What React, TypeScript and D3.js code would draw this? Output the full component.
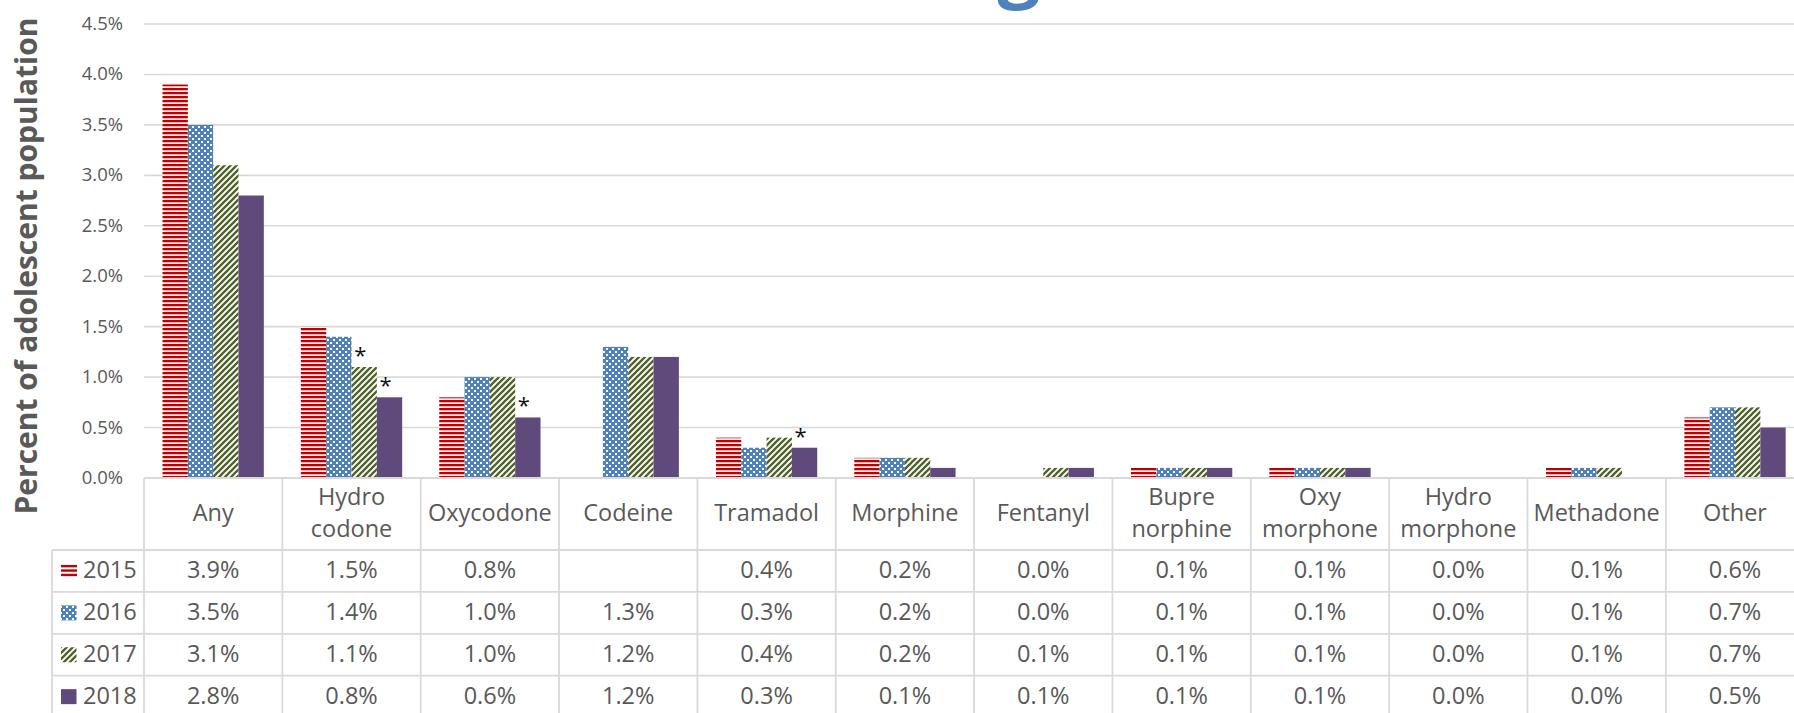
import React from "react";
import * as d3 from "d3";

const categories: string[][] = [
  ["Any"], ["Hydro", "codone"], ["Oxycodone"], ["Codeine"], ["Tramadol"], ["Morphine"],
  ["Fentanyl"], ["Bupre", "norphine"], ["Oxy", "morphone"], ["Hydro", "morphone"], ["Methadone"], ["Other"],
];
const years = ["2015", "2016", "2017", "2018"];
const values2015: (number | null)[] = [3.9, 1.5, 0.8, null, 0.4, 0.2, 0.0, 0.1, 0.1, 0.0, 0.1, 0.6];
const values2016: (number | null)[] = [3.5, 1.4, 1.0, 1.3, 0.3, 0.2, 0.0, 0.1, 0.1, 0.0, 0.1, 0.7];
const values2017: (number | null)[] = [3.1, 1.1, 1.0, 1.2, 0.4, 0.2, 0.1, 0.1, 0.1, 0.0, 0.1, 0.7];
const values2018: (number | null)[] = [2.8, 0.8, 0.6, 1.2, 0.3, 0.1, 0.1, 0.1, 0.1, 0.0, 0.0, 0.5];
// significance markers (*) per series
const sig2017: boolean[] = [false, true, false, false, false, false, false, false, false, false, false, false];
const sig2018: boolean[] = [false, true, true, false, true, false, false, false, false, false, false, false];
const yTicks = [0, 0.5, 1.0, 1.5, 2.0, 2.5, 3.0, 3.5, 4.0, 4.5];

const series = [values2015, values2016, values2017, values2018];
const sigs = [null, null, sig2017, sig2018];
const fills = ["url(#p2015)", "url(#p2016)", "url(#p2017)", "#604A7B"];

const W = 1794;
const H = 713;
const plotLeft = 144;
const catW = 138.35;
const plotRight = plotLeft + catW * categories.length;
const yZero = 478;
const yTopPx = 24;
const tableHeaderBottom = 550;
const rowH = 41.9;
const legendLeft = 52;
const grid = "#D9D9D9";
const textGrey = "#595959";
const font = "'Open Sans', 'Noto Sans', sans-serif";

export default function App() {
  const x = d3.scaleBand<number>().domain(d3.range(categories.length)).range([plotLeft, plotRight]).paddingInner(0).paddingOuter(0);
  const gap = (catW - 101.3) / 2;
  const x1 = d3.scaleBand<number>().domain(d3.range(years.length)).range([gap, catW - gap]).padding(0);
  const y = d3.scaleLinear().domain([0, 4.5]).range([yZero, yTopPx]);
  const rowY = (i: number) => tableHeaderBottom + i * rowH;

  return (
    <svg width={W} height={H} style={{ position: "absolute", left: 0, top: 0, background: "#fff" }} fontFamily={font}>
      <defs>
        <pattern id="p2015" patternUnits="userSpaceOnUse" width={4} height={4}>
          <rect width={4} height={4} fill="#fff" />
          <rect y={0} width={4} height={2.3} fill="#C00000" />
        </pattern>
        <pattern id="p2016" patternUnits="userSpaceOnUse" width={6} height={6}>
          <rect width={6} height={6} fill="#4F81BD" />
          <rect x={0} y={0} width={2} height={2} fill="#fff" />
          <rect x={3} y={3} width={2} height={2} fill="#fff" />
        </pattern>
        <pattern id="p2017" patternUnits="userSpaceOnUse" width={6} height={6}>
          <rect width={6} height={6} fill="#fff" />
          <path d="M-1,7 L7,-1 M-4,4 L4,-4 M2,10 L10,2" stroke="#4F6228" strokeWidth={2.3} />
        </pattern>
      </defs>

      {/* partial title (only the descender is visible in the frame) */}
      <text x={1019} y={-7} textAnchor="middle" fontSize={76} fontWeight={700} fill="#4F81BD">g</text>

      {/* gridlines */}
      {yTicks.map((t) => (
        <line key={t} x1={plotLeft} x2={W} y1={y(t)} y2={y(t)} stroke={grid} strokeWidth={1.6} />
      ))}
      {/* y tick labels */}
      {yTicks.map((t) => (
        <text key={"l" + t} x={123} y={y(t) + 1} textAnchor="end" dominantBaseline="middle" fontSize={18.5} fill={textGrey}>
          {d3.format(".1f")(t) + "%"}
        </text>
      ))}
      {/* y axis title */}
      <text transform={`translate(37,266) rotate(-90)`} textAnchor="middle" fontSize={30} fontWeight={700} fill={textGrey}>
        Percent of adolescent population
      </text>

      {/* bars */}
      {series.map((vals, si) =>
        vals.map((v, ci) =>
          v == null || v === 0 ? null : (
            <rect key={`b${si}-${ci}`} x={(x(ci) as number) + (x1(si) as number)} y={y(v)} width={x1.bandwidth()} height={yZero - y(v)} fill={fills[si]} />
          )
        )
      )}
      {/* significance asterisks */}
      {series.map((vals, si) =>
        vals.map((v, ci) =>
          sigs[si] && (sigs[si] as boolean[])[ci] && v != null ? (
            <text key={`s${si}-${ci}`} x={(x(ci) as number) + (x1(si) as number) + x1.bandwidth() / 2 - 4} y={y(v) - 10} textAnchor="middle" dominantBaseline="middle" fontSize={22} fill="#111">*</text>
          ) : null
        )
      )}

      {/* table lines */}
      <line x1={plotLeft} x2={W} y1={yZero} y2={yZero} stroke={grid} strokeWidth={1.8} />
      {d3.range(categories.length + 1).map((i) => (
        <line key={"v" + i} x1={plotLeft + i * catW} x2={plotLeft + i * catW} y1={yZero} y2={H} stroke={grid} strokeWidth={1.8} />
      ))}
      <line x1={legendLeft} x2={legendLeft} y1={tableHeaderBottom} y2={H} stroke={grid} strokeWidth={1.8} />
      {d3.range(years.length).map((i) => (
        <line key={"h" + i} x1={legendLeft} x2={W} y1={rowY(i)} y2={rowY(i)} stroke={grid} strokeWidth={1.8} />
      ))}

      {/* header category labels */}
      {categories.map((lines, ci) => {
        const cx = (x(ci) as number) + catW / 2;
        const mid = (yZero + tableHeaderBottom) / 2 + 1;
        return (
          <text key={"c" + ci} x={cx} textAnchor="middle" fontSize={23.5} fill={textGrey}>
            {lines.map((ln, li) => (
              <tspan key={li} x={cx} y={mid + (li - (lines.length - 1) / 2) * 32} dominantBaseline="middle">{ln}</tspan>
            ))}
          </text>
        );
      })}

      {/* legend keys + year labels */}
      {years.map((yr, si) => {
        const cy = rowY(si) + rowH / 2;
        return (
          <g key={"lg" + si}>
            {si === 0 ? (
              <g>
                {[0, 1, 2].map((k) => (
                  <rect key={k} x={61} y={cy - 6 + k * 4.4} width={16} height={2.4} fill="#C00000" />
                ))}
              </g>
            ) : (
              <rect x={61} y={cy - 7.5} width={15.5} height={15} fill={fills[si]} />
            )}
            <text x={83} y={cy + 1} dominantBaseline="middle" fontSize={23.5} fill={textGrey}>{yr}</text>
          </g>
        );
      })}

      {/* table values */}
      {series.map((vals, si) =>
        vals.map((v, ci) =>
          v == null ? null : (
            <text key={`t${si}-${ci}`} x={(x(ci) as number) + catW / 2} y={rowY(si) + rowH / 2 + 1} textAnchor="middle" dominantBaseline="middle" fontSize={23.5} fill={textGrey}>
              {d3.format(".1f")(v) + "%"}
            </text>
          )
        )
      )}
    </svg>
  );
}
